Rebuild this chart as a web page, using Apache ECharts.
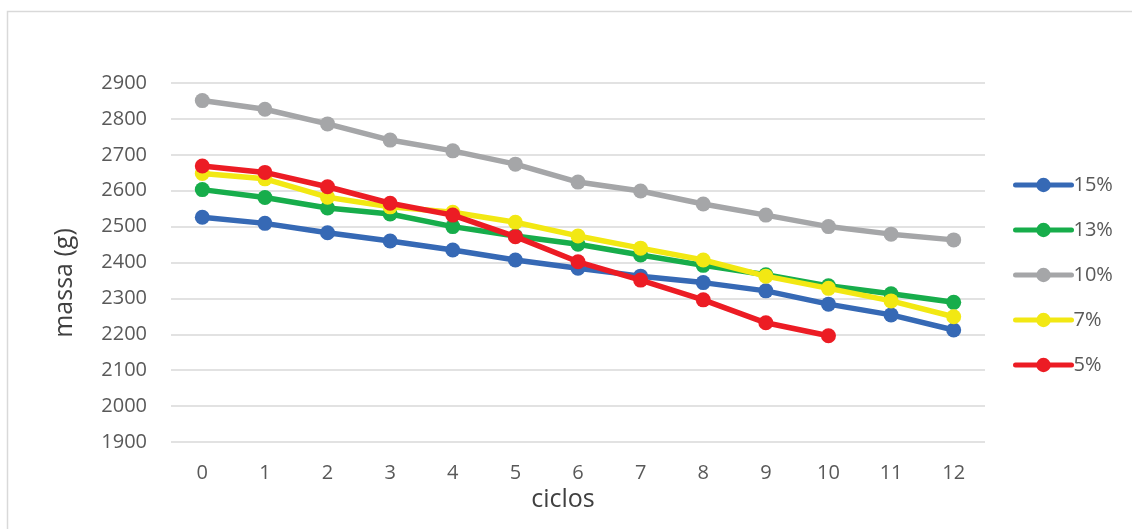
<!DOCTYPE html>
<html>
<head>
<meta charset="utf-8">
<title>massa x ciclos</title>
<script src="https://cdn.jsdelivr.net/npm/echarts@6/dist/echarts.min.js"></script>
<style>
  html, body { margin: 0; padding: 0; background: #ffffff; }
  #chart { width: 1132px; height: 529px; }
</style>
</head>
<body>
<div id="chart"></div>
<script>
// Cycles on the x axis
const ciclos = ['0', '1', '2', '3', '4', '5', '6', '7', '8', '9', '10', '11', '12'];

// Mass (g) per cycle for each percentage
const serie15 = [2526, 2509, 2483, 2460, 2435, 2407, 2384, 2362, 2344, 2321, 2284, 2254, 2212];
const serie13 = [2603, 2581, 2552, 2535, 2500, 2474, 2451, 2421, 2392, 2366, 2335, 2313, 2289];
const serie10 = [2851, 2827, 2786, 2741, 2711, 2674, 2624, 2599, 2563, 2532, 2500, 2479, 2463];
const serie7  = [2648, 2633, 2582, 2555, 2540, 2512, 2474, 2440, 2407, 2362, 2328, 2293, 2249];
const serie5  = [2669, 2651, 2611, 2565, 2532, 2472, 2402, 2351, 2296, 2232, 2196, null, null];

const seriesNames = ['15%', '13%', '10%', '7%', '5%'];
const seriesData = [serie15, serie13, serie10, serie7, serie5];
const seriesColors = ['#3669b5', '#17ad4b', '#a5a6a8', '#f2e813', '#ec1c24'];

const FONT = '"Open Sans", "Noto Sans", sans-serif';

const chart = echarts.init(document.getElementById('chart'), null, { renderer: 'canvas' });

chart.setOption({
  backgroundColor: '#ffffff',
  animation: false,
  textStyle: { fontFamily: FONT },
  grid: { left: 171, right: 147, top: 83, bottom: 87, containLabel: false },
  legend: {
    orient: 'vertical',
    left: 1008,
    top: 170,
    itemWidth: 56,
    itemHeight: 18,
    itemGap: 25,
    lineStyle: { width: 5, cap: 'round' },
    textStyle: { color: '#595959', fontSize: 20, fontFamily: FONT, padding: [0, 0, 0, -3] },
    data: seriesNames
  },
  xAxis: {
    type: 'category',
    data: ciclos,
    boundaryGap: true,
    axisLine: { show: false },
    axisTick: { show: false },
    axisLabel: { color: '#595959', fontSize: 20, fontFamily: FONT, margin: 21 }
  },
  yAxis: {
    type: 'value',
    min: 1900,
    max: 2900,
    interval: 100,
    axisLine: { show: false },
    axisTick: { show: false },
    axisLabel: {
      color: '#595959',
      fontSize: 20,
      fontFamily: FONT,
      margin: 24,
      formatter: (v) => String(v)
    },
    splitLine: { lineStyle: { color: '#d9d9d9', width: 1.5 } }
  },
  graphic: [
    {
      type: 'rect',
      silent: true,
      shape: { x: 7.5, y: 11.5, width: 1200, height: 600 },
      style: { fill: 'none', stroke: '#d9d9d9', lineWidth: 1.5 },
      z: -1
    },
    {
      type: 'text',
      silent: true,
      x: 65,
      y: 283,
      rotation: Math.PI / 2,
      style: {
        text: 'massa (g)',
        fill: '#404040',
        font: '25px ' + FONT,
        align: 'center',
        verticalAlign: 'middle'
      }
    },
    {
      type: 'text',
      silent: true,
      x: 563,
      y: 500,
      style: {
        text: 'ciclos',
        fill: '#404040',
        font: '25px ' + FONT,
        align: 'center',
        verticalAlign: 'middle'
      }
    }
  ],
  series: seriesNames.map((name, i) => ({
    name: name,
    type: 'line',
    data: seriesData[i],
    color: seriesColors[i],
    symbol: 'circle',
    symbolSize: 15,
    showAllSymbol: true,
    lineStyle: { width: 5.5, color: seriesColors[i] },
    itemStyle: { color: seriesColors[i] },
    emphasis: { disabled: true },
    z: 2 + i
  }))
});
</script>
</body>
</html>
